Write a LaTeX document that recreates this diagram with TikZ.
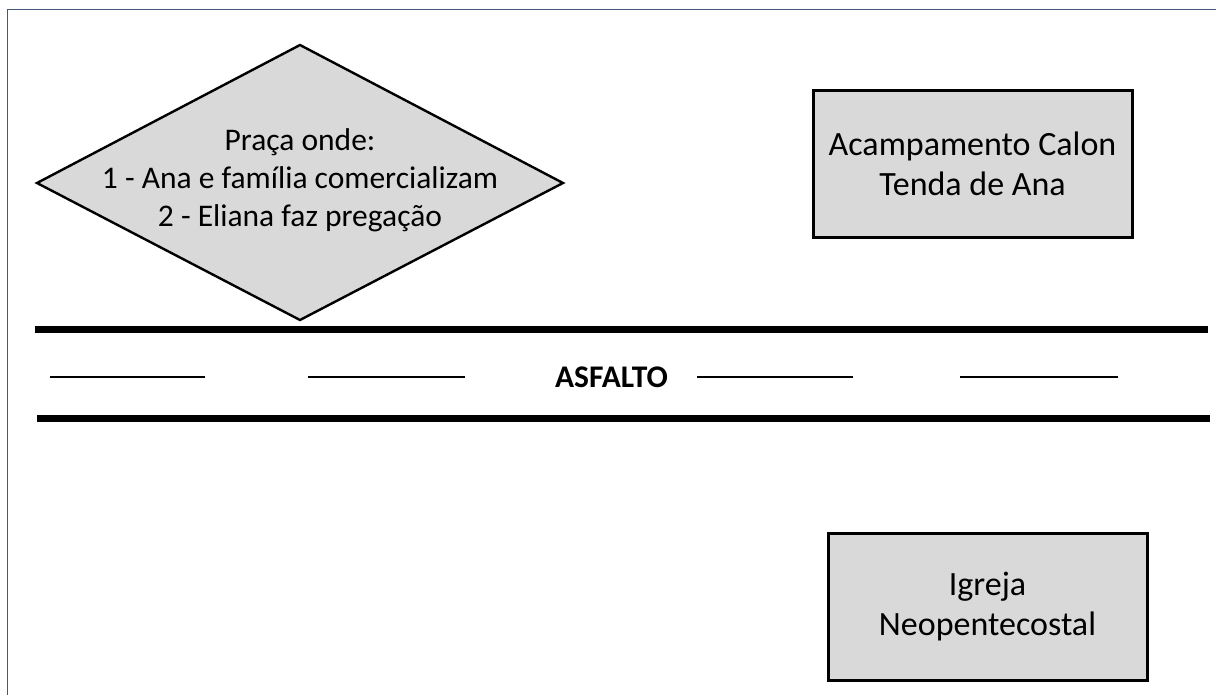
\documentclass[tikz,border=0pt]{standalone}
\usepackage{fontspec}
\setmainfont{Carlito}
\definecolor{boxgray}{HTML}{D9D9D9}
\definecolor{framecol}{HTML}{41597A}
\begin{document}
\begin{tikzpicture}[x=1pt,y=-1pt,
  txt/.style={font=\fontsize{31.5}{38}\selectfont, align=center, inner sep=0pt},
  placebox/.style={draw=black, line width=3pt, fill=boxgray, minimum width=319pt, minimum height=147pt, inner sep=0pt, font=\fontsize{34}{40}\selectfont, align=center},
  road/.style={line width=7pt},
  lane/.style={line width=2pt},
  diam/.style={draw=black, line width=2.4pt, fill=boxgray, line join=miter}
]
\useasboundingbox (0,0) rectangle (1216,695);
\fill[white] (0,0) rectangle (1216,695);
\draw[framecol, line width=1.6pt] (7.5,695) -- (7.5,9.5) -- (1216,9.5);

% square (diamond)
\coordinate (dt) at (300,45);
\coordinate (dr) at (563,183);
\coordinate (db) at (300,320);
\coordinate (dl) at (37,183);
\draw[diam] (dt) -- (dr) -- (db) -- (dl) -- cycle;
\node[txt] (praca) at (300,180) {Praça onde:\\1 - Ana e família comercializam\\2 - Eliana faz pregação};

% boxes
\node[placebox] (acamp) at (972.5,164) {Acampamento Calon\\Tenda de Ana};
\node[placebox] (igreja) at (987.5,606.5) {Igreja\\Neopentecostal};

% road
\draw[road] (35,329.5) -- (1208,329.5);
\draw[road] (37,418.5) -- (1210,418.5);
\draw[lane] (50,377) -- (205,377);
\draw[lane] (308,377) -- (465,377);
\draw[lane] (697,377) -- (853,377);
\draw[lane] (960,377) -- (1118,377);
\node[font=\fontsize{31.5}{36}\selectfont\bfseries, inner sep=0pt] (asfalto) at (611.5,377) {ASFALTO};
\end{tikzpicture}
\end{document}
